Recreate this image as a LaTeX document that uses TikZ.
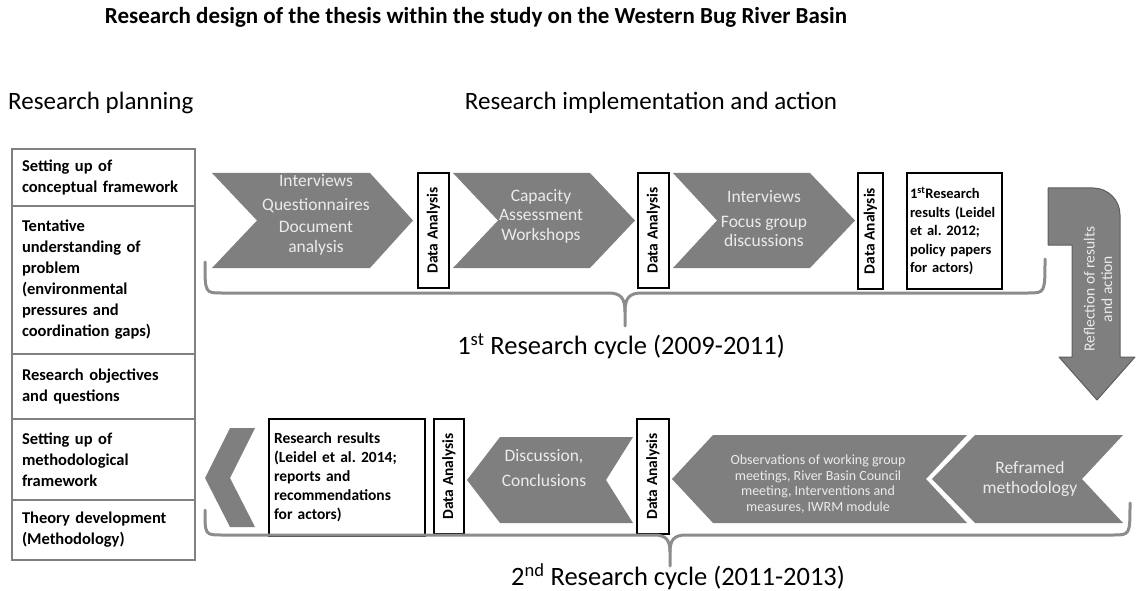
\documentclass[tikz,border=0pt]{standalone}
\usepackage{fontspec}
\setmainfont{Carlito}
\definecolor{chevgray}{HTML}{7F7F7F}
\definecolor{chevtxt}{HTML}{EBEBEB}
\definecolor{framegray}{HTML}{808080}
\definecolor{bracegray}{HTML}{8C8C8C}
\definecolor{arrowedge}{HTML}{5E5E5E}
\begin{document}
\frenchspacing
\hyphenpenalty=10000
\begin{tikzpicture}[x=1pt,y=-1pt,
  chev/.style={fill=chevgray},
  chevtext/.style={text=chevtxt, align=center, inner sep=0pt,
    font=\fontsize{17.5}{19.5}\selectfont},
  planbox/.style={draw=framegray, line width=2pt, anchor=north west,
    minimum width=183pt, text width=163pt, align=left, inner xsep=10pt,
    inner ysep=0pt, font=\bfseries\fontsize{16.5}{21}\selectfont},
  dabox/.style={draw=black, fill=white, line width=2pt, anchor=north west,
    inner sep=0pt},
  resbox/.style={draw=black, fill=white, line width=2pt, anchor=north west,
    inner xsep=5pt, align=left, font=\bfseries\fontsize{15.5}{19}\selectfont},
  datext/.style={rotate=90, font=\bfseries\fontsize{15.5}{18}\selectfont, inner sep=0pt},
  heading/.style={font=\fontsize{25}{29}\selectfont, inner sep=0pt},
  cyclelabel/.style={font=\fontsize{26.5}{30}\selectfont, inner sep=0pt},
  bracestroke/.style={draw=bracegray, line width=3pt, line cap=round, line join=round}]

\useasboundingbox (0,0) rectangle (1136,591);

% ---- headings ----
\node[font=\bfseries\fontsize{23}{26}\selectfont, inner sep=0pt] (title) at (476,17)
  {Research design of the thesis within the study on the Western Bug River Basin};
\node[heading, anchor=west] (hplan) at (8,103) {Research planning};
\node[heading] (himpl) at (651,103) {Research implementation and action};

% ---- planning column ----
\node[planbox, minimum height=57pt] (p1) at (11,148)
  {Setting up of\\conceptual framework};
\node[planbox, minimum height=148pt] (p2) at (11,205)
  {Tentative\\understanding of\\problem\\(environmental\\pressures and\\coordination gaps)};
\node[planbox, minimum height=65pt] (p3) at (11,353)
  {Research objectives\\and questions};
\node[planbox, minimum height=81pt] (p4) at (11,418)
  {Setting up of\\methodological\\framework};
\node[planbox, minimum height=60pt] (p5) at (11,499)
  {Theory development\\(Methodology)};

% ---- first research cycle ----
\fill[chev] (212,173) -- (370,173) -- (413,220.5) -- (370,268) -- (212,268) -- (257,220.5) -- cycle;
\fill[chev] (453,173) -- (590,173) -- (635,220.5) -- (590,268) -- (453,268) -- (498,220.5) -- cycle;
\fill[chev] (673,173) -- (810,173) -- (855,220.5) -- (810,268) -- (673,268) -- (717,220.5) -- cycle;

\node[chevtext] (c1) at (316,215)
  {Interviews\\[4pt]Questionnaires\\[3pt]Document\\analysis};
\node[chevtext] (c2) at (541,216) {Capacity\\Assessment\\Workshops};
\node[chevtext] (c3) at (764,219) {Interviews\\[5pt]Focus group\\discussions};

\node[dabox, minimum width=31pt, minimum height=115pt] (da1) at (417,172) {};
\node[datext] at (da1.center) {Data Analysis};
\node[dabox, minimum width=31pt, minimum height=115pt] (da2) at (637,172) {};
\node[datext] at (da2.center) {Data Analysis};
\node[dabox, minimum width=25pt, minimum height=116pt] (da3) at (857,172) {};
\node[datext] at (da3.center) {Data Analysis};

\node[resbox, minimum width=95pt, minimum height=116pt, text width=89pt, inner xsep=3pt,
  font=\bfseries\fontsize{14.5}{18.5}\selectfont] (r1) at (906,172)
  {1\textsuperscript{st}Research\\results (Leidel\\et al. 2012;\\policy papers\\for actors)};

% brace under the first cycle
\draw[bracestroke] (205,262) .. controls (205,293) and (205,293) .. (222,293)
  -- (608,293) .. controls (621,293) and (625,298) .. (625,312) -- (625,326);
\draw[bracestroke] (1045,259) .. controls (1045,293) and (1045,293) .. (1028,293)
  -- (642,293) .. controls (629,293) and (625,298) .. (625,312);
\node[cyclelabel] (cyc1) at (621,346) {1\textsuperscript{st} Research cycle (2009-2011)};

% ---- reflection arrow ----
\draw[fill=chevgray, draw=arrowedge, line width=1pt, line join=round]
  (1048,188) -- (1093,188) .. controls (1108,188) and (1120,200) .. (1120,215)
  -- (1120,357) -- (1135,357) -- (1097,400) -- (1059,357) -- (1072,357)
  -- (1072,245) -- (1048,245) -- cycle;
\node[chevtext, rotate=90, font=\fontsize{15.5}{17.5}\selectfont] (refl) at (1098,289)
  {Reflection of results\\and action};

% ---- second research cycle ----
\fill[chev] (1123,435) -- (975,435) -- (932,479) -- (975,523) -- (1123,523) -- (1082,479) -- cycle;
\fill[chev] (967,435) -- (713,435) -- (672,479) -- (713,523) -- (967,523) -- (926,479) -- cycle;
\fill[chev] (633,437) -- (500,437) -- (467,480) -- (500,523) -- (633,523) -- (606,480) -- cycle;
\fill[chev] (230,428) -- (255,428) -- (230,478) -- (255,527) -- (230,527) -- (205,478) -- cycle;

\node[chevtext] (c4) at (1030,479) {Reframed\\methodology};
\node[chevtext, font=\fontsize{14}{15.5}\selectfont] (c5) at (818,484)
  {Observations of working group\\meetings, River Basin Council\\meeting, Interventions and\\measures, IWRM module};
\node[chevtext] (c6) at (544,468) {Discussion,\\[5pt]Conclusions};

\node[dabox, minimum width=32pt, minimum height=115pt] (da4) at (636,418) {};
\node[datext] at (da4.center) {Data Analysis};
\node[dabox, minimum width=30pt, minimum height=115pt] (da5) at (433,418) {};
\node[datext] at (da5.center) {Data Analysis};

\node[resbox, minimum width=156pt, minimum height=117pt, text width=146pt] (r2) at (268,418)
  {Research results\\(Leidel et al. 2014;\\reports and\\recommendations\\for actors)};

% brace under the second cycle
\draw[bracestroke] (205,510) .. controls (205,535) and (205,535) .. (222,535)
  -- (654,535) .. controls (666,535) and (670,540) .. (670,552) -- (670,566);
\draw[bracestroke] (1130,503) .. controls (1130,535) and (1130,535) .. (1113,535)
  -- (686,535) .. controls (674,535) and (670,540) .. (670,552);
\node[cyclelabel] (cyc2) at (678,577) {2\textsuperscript{nd} Research cycle (2011-2013)};

\end{tikzpicture}
\end{document}
